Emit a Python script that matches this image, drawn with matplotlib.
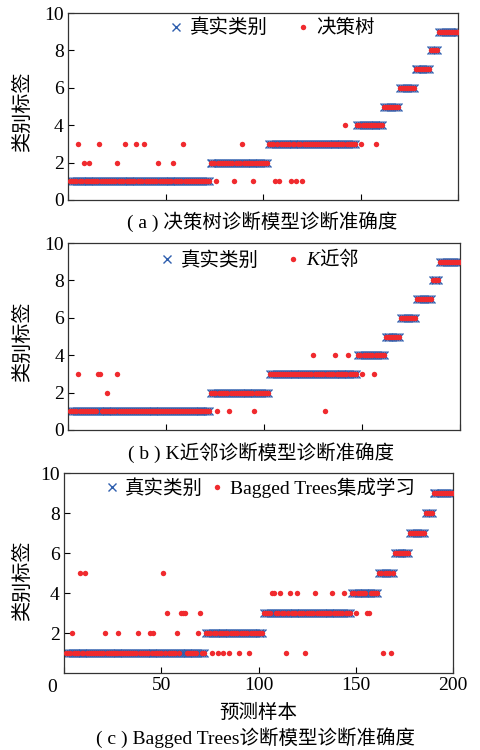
import numpy as np
import matplotlib
matplotlib.use("Agg")
import matplotlib.pyplot as plt
from matplotlib.lines import Line2D

plt.rcParams['font.family'] = ['Liberation Serif', 'Noto Sans CJK SC']
plt.rcParams['mathtext.fontset'] = 'custom'
plt.rcParams['mathtext.rm'] = 'Noto Sans CJK SC'
plt.rcParams['mathtext.it'] = 'Liberation Serif:italic'
plt.rcParams['mathtext.fallback'] = 'stix'

# ---- data ----
classes = [1, 2, 3, 4, 5, 6, 7, 8, 9]
class_counts = [72, 30, 45, 14, 8, 8, 8, 4, 11]
n_samples = 200
x_ticks = [0, 50, 100, 150, 200]
x_ticklabels = ['', '50', '100', '150', '200']

# misclassified samples: (sample index, predicted label)
dt_errors = [(5, 3), (16, 3), (29, 3), (35, 3), (39, 3), (59, 3),
             (8, 2), (11, 2), (25, 2), (46, 2), (54, 2),
             (76, 1), (85, 1), (95, 1), (89, 3),
             (106, 1), (108, 1), (114, 1), (117, 1), (120, 1),
             (142, 4), (150, 3), (158, 3)]
knn_errors = [(5, 3), (15, 3), (16, 3), (25, 3), (20, 2),
              (76, 1), (82, 1), (95, 1),
              (125, 4), (136, 4), (143, 4), (131, 1),
              (150, 3), (156, 3)]
bag_errors = [(4, 2), (21, 2), (28, 2), (38, 2), (44, 2), (46, 2), (58, 2), (69, 2),
              (8, 5), (11, 5), (51, 5),
              (53, 3), (60, 3), (61, 3), (62, 3), (70, 3),
              (76, 1), (79, 1), (82, 1), (85, 1), (90, 1), (95, 1),
              (114, 1), (124, 1),
              (107, 4), (108, 4), (111, 4), (116, 4), (120, 4), (129, 4), (138, 4), (144, 4),
              (150, 3), (156, 3), (157, 3),
              (164, 1), (168, 1)]

model_names = ['决策树', r'$K\mathrm{近邻}$', 'Bagged Trees集成学习']
captions = ['( a ) 决策树诊断模型诊断准确度',
            '( b ) K近邻诊断模型诊断准确度',
            '( c ) Bagged Trees诊断模型诊断准确度']
true_label_name = '真实类别'
ylabel_text = '类别标签'
xlabel_text = '预测样本'

samples = np.arange(1, n_samples + 1)
true_labels = np.repeat(classes, class_counts)

def predictions(errors):
    p = true_labels.astype(float).copy()
    for idx, lab in errors:
        p[idx - 1] = lab
    return p

preds = [predictions(dt_errors), predictions(knn_errors), predictions(bag_errors)]

BLUE = '#2f5fae'
RED = '#f02a2e'

fig = plt.figure(figsize=(4.81, 7.5), dpi=100)
W, H = 481, 750
boxes = [(68, 458.5, 13, 200), (68.3, 460, 243, 430), (64, 453, 473, 673)]
legend_pos = [(0.522, 0.92), (0.488, 0.92), (0.503, 0.925)]
colspacing = [1.4, 1.35, 0.3]
cap_pos = [(262, 222), (261, 453), (256, 738)]
ylab_pos = [(23, 112), (23, 342), (23, 581)]

for i in range(3):
    l, r, t, b = boxes[i]
    ax = fig.add_axes([l / W, 1 - b / H, (r - l) / W, (b - t) / H])
    ax.plot(samples, true_labels, linestyle='none', marker='x', ms=6, mew=1.0,
            color=BLUE, zorder=2)
    ax.plot(samples, preds[i], linestyle='none', marker='o', ms=3.9, mew=0,
            color=RED, zorder=3)
    ax.set_xlim(0, 200)
    ax.set_ylim(0, 10)
    ax.set_xticks(x_ticks)
    if i < 2:
        ax.set_yticks([0, 2, 4, 6, 8, 10])
        ax.tick_params(axis='x', labelbottom=False)
    else:
        ax.set_yticks([2, 4, 6, 8, 10])
        ax.set_xticklabels(x_ticklabels)
        fig.text(52 / W, 1 - 688 / H, '0', ha='center', va='center', fontsize=14)
    ax.tick_params(direction='in', length=4, width=0.8, labelsize=14, pad=3)
    for s in ax.spines.values():
        s.set_linewidth(0.9)
        s.set_color('#333333')

    handles = [Line2D([], [], linestyle='none', marker='x', ms=6, mew=1.0, color=BLUE),
               Line2D([], [], linestyle='none', marker='o', ms=3.9, mew=0, color=RED)]
    ax.legend(handles, [true_label_name, model_names[i]], ncol=2, frameon=False,
              loc='center', bbox_to_anchor=legend_pos[i], fontsize=14,
              handlelength=0.8, handletextpad=0.3, columnspacing=colspacing[i],
              borderpad=0.1)

    fig.text(ylab_pos[i][0] / W, 1 - ylab_pos[i][1] / H, ylabel_text, rotation=90,
             ha='center', va='center', fontsize=14.5)
    fig.text(cap_pos[i][0] / W, 1 - cap_pos[i][1] / H, captions[i],
             ha='center', va='center', fontsize=14)

fig.text(258 / W, 1 - 713 / H, xlabel_text, ha='center', va='center', fontsize=14)

fig.savefig('out.png', dpi=100)
